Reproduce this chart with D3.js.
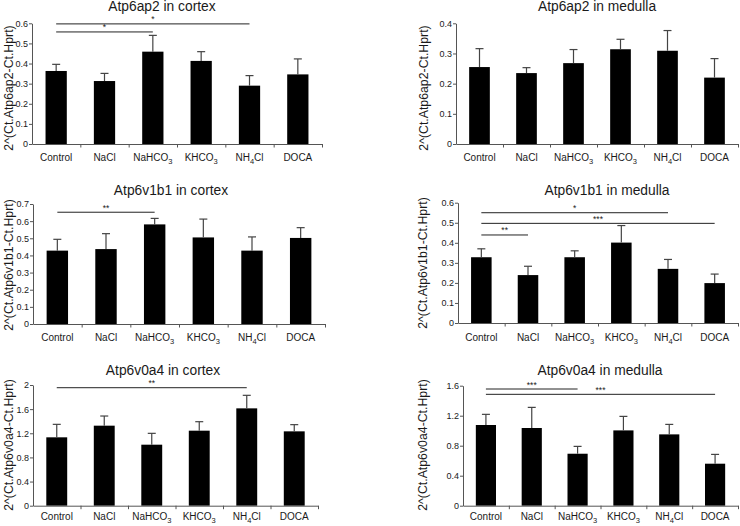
<!DOCTYPE html>
<html>
<head>
<meta charset="utf-8">
<script src="https://cdn.jsdelivr.net/npm/d3@7"></script>
<style>
  html, body { margin: 0; padding: 0; background: #fff; }
  svg { display: block; }
  text { font-family: "Liberation Sans", Arial, sans-serif; fill: #1a1a1a; }
</style>
</head>
<body>
<svg id="chart" width="740" height="526"></svg>
<script>
// ---------------- data ----------------
const categories = ["Control", "NaCl", "NaHCO3", "KHCO3", "NH4Cl", "DOCA"];

const atp6ap2CortexMean  = [0.363, 0.313, 0.459, 0.413, 0.290, 0.346];
const atp6ap2CortexErr   = [0.033, 0.038, 0.081, 0.046, 0.050, 0.077];
const atp6ap2MedullaMean = [0.255, 0.235, 0.268, 0.314, 0.309, 0.220];
const atp6ap2MedullaErr  = [0.061, 0.018, 0.045, 0.033, 0.067, 0.063];
const atp6v1b1CortexMean  = [0.428, 0.437, 0.581, 0.505, 0.428, 0.502];
const atp6v1b1CortexErr   = [0.066, 0.090, 0.035, 0.107, 0.080, 0.060];
const atp6v1b1MedullaMean = [0.328, 0.239, 0.328, 0.401, 0.270, 0.199];
const atp6v1b1MedullaErr  = [0.042, 0.044, 0.032, 0.085, 0.047, 0.045];
const atp6v0a4CortexMean  = [1.133, 1.326, 1.011, 1.243, 1.613, 1.232];
const atp6v0a4CortexErr   = [0.215, 0.160, 0.188, 0.149, 0.216, 0.111];
const atp6v0a4MedullaMean = [1.076, 1.036, 0.693, 1.004, 0.951, 0.560];
const atp6v0a4MedullaErr  = [0.142, 0.275, 0.098, 0.187, 0.133, 0.124];

const titles = ["Atp6ap2 in cortex", "Atp6ap2 in medulla",
                "Atp6v1b1 in cortex", "Atp6v1b1 in medulla",
                "Atp6v0a4 in cortex", "Atp6v0a4 in medulla"];
const yLabels = ["2^(Ct.Atp6ap2-Ct.Hprt)", "2^(Ct.Atp6ap2-Ct.Hprt)",
                 "2^(Ct.Atp6v1b1-Ct.Hprt)", "2^(Ct.Atp6v1b1-Ct.Hprt)",
                 "2^(Ct.Atp6v0a4-Ct.Hprt)", "2^(Ct.Atp6v0a4-Ct.Hprt)"];

const ticks1 = [0, 0.1, 0.2, 0.3, 0.4, 0.5, 0.6];
const ticks2 = [0, 0.1, 0.2, 0.3, 0.4];
const ticks3 = [0, 0.1, 0.2, 0.3, 0.4, 0.5, 0.6, 0.7];
const ticks4 = [0, 0.1, 0.2, 0.3, 0.4, 0.5, 0.6];
const ticks5 = [0, 0.4, 0.8, 1.2, 1.6, 2];
const ticks6 = [0, 0.4, 0.8, 1.2, 1.6];

// significance brackets: [fromIndex, toIndex, yValue, label]
const sig1 = [[0, 4, 0.597, "*"], [0, 2, 0.557, "*"]];
const sig2 = [];
const sig3 = [[0, 2, 0.652, "**"]];
const sig4 = [[0, 4, 0.550, "*"], [0, 5, 0.497, "***"], [0, 1, 0.439, "**"]];
const sig5 = [[0, 4, 1.955, "**"]];
const sig6 = [[0, 2, 1.556, "***"], [0, 5, 1.485, "***"]];

// ---------------- layout (positions only) ----------------
const layout = [
  { x0: 32,  x1: 322, y0: 144,   yTop: 23.3,  titleX: 162, titleY: 11,  ylx: 9,   yly: 88,  labY: 161 },
  { x0: 456, x1: 738, y0: 144,   yTop: 23.3,  titleX: 597, titleY: 11,  ylx: 424, yly: 88,  labY: 161 },
  { x0: 33,  x1: 325, y0: 324,   yTop: 204,   titleX: 171, titleY: 195, ylx: 9,   yly: 265, labY: 341 },
  { x0: 458, x1: 738, y0: 323,   yTop: 202.7, titleX: 607, titleY: 195, ylx: 423, yly: 263, labY: 341 },
  { x0: 33,  x1: 318, y0: 505.7, yTop: 385,   titleX: 163, titleY: 375, ylx: 9,   yly: 445, labY: 520 },
  { x0: 463, x1: 738, y0: 505.7, yTop: 385.7, titleX: 600, titleY: 375, ylx: 423, yly: 445, labY: 520 }
];

const means = [atp6ap2CortexMean, atp6ap2MedullaMean, atp6v1b1CortexMean, atp6v1b1MedullaMean, atp6v0a4CortexMean, atp6v0a4MedullaMean];
const errs  = [atp6ap2CortexErr, atp6ap2MedullaErr, atp6v1b1CortexErr, atp6v1b1MedullaErr, atp6v0a4CortexErr, atp6v0a4MedullaErr];
const tickSets = [ticks1, ticks2, ticks3, ticks4, ticks5, ticks6];
const sigs = [sig1, sig2, sig3, sig4, sig5, sig6];

const svg = d3.select("#chart");
const axisColor = "#555";

function addLabel(sel, name) {
  // split digits into subscripts
  const parts = name.split(/(\d)/).filter(s => s.length);
  parts.forEach(p => {
    if (/^\d$/.test(p)) {
      sel.append("tspan").attr("font-size", "7.5px").attr("dy", 2.5).text(p);
    } else {
      const t = sel.append("tspan").text(p);
      if (sel.selectAll("tspan").size() > 1) t.attr("dy", -2.5);
    }
  });
}

layout.forEach((L, i) => {
  const g = svg.append("g");
  const domMax = tickSets[i][tickSets[i].length - 1];
  const y = d3.scaleLinear().domain([0, domMax]).range([L.y0, L.yTop]);
  const x = d3.scaleBand().domain(categories).range([L.x0, L.x1]).paddingInner(0.56).paddingOuter(0.28);
  const xb = d3.scaleLinear().domain([0, categories.length]).range([L.x0, L.x1]);

  // bars
  g.selectAll("rect.bar").data(categories).join("rect")
    .attr("class", "bar")
    .attr("x", d => x(d))
    .attr("width", x.bandwidth())
    .attr("y", (d, j) => y(means[i][j]))
    .attr("height", (d, j) => L.y0 - y(means[i][j]))
    .attr("fill", "#000");

  // error bars (upper only)
  const eb = g.selectAll("g.err").data(categories).join("g").attr("class", "err");
  eb.append("line")
    .attr("x1", d => x(d) + x.bandwidth() / 2)
    .attr("x2", d => x(d) + x.bandwidth() / 2)
    .attr("y1", (d, j) => y(means[i][j]))
    .attr("y2", (d, j) => y(means[i][j] + errs[i][j]))
    .attr("stroke", "#444").attr("stroke-width", 1.2);
  eb.append("line")
    .attr("x1", d => x(d) + x.bandwidth() / 2 - 4)
    .attr("x2", d => x(d) + x.bandwidth() / 2 + 4)
    .attr("y1", (d, j) => y(means[i][j] + errs[i][j]))
    .attr("y2", (d, j) => y(means[i][j] + errs[i][j]))
    .attr("stroke", "#444").attr("stroke-width", 1.2);

  // y axis
  const ya = g.append("g").attr("transform", `translate(${L.x0},0)`)
    .call(d3.axisLeft(y).tickValues(tickSets[i]).tickSize(3).tickSizeOuter(0)
      .tickFormat(d => String(+d.toFixed(2))));
  ya.select(".domain").attr("stroke", axisColor);
  ya.selectAll(".tick line").attr("stroke", axisColor);
  ya.selectAll(".tick text").attr("font-size", "9px").attr("fill", "#222")
    .attr("font-family", "Liberation Sans, Arial, sans-serif").attr("x", -4);

  // x axis
  const xa = g.append("g").attr("transform", `translate(0,${L.y0})`)
    .call(d3.axisBottom(xb).tickValues(d3.range(1, categories.length + 1)).tickSize(3.5).tickSizeOuter(0).tickFormat(""));
  xa.select(".domain").attr("stroke", axisColor);
  xa.selectAll(".tick line").attr("stroke", axisColor);

  // category labels
  g.selectAll("text.cat").data(categories).join("text")
    .attr("class", "cat")
    .attr("x", d => x(d) + x.bandwidth() / 2)
    .attr("y", L.labY)
    .attr("text-anchor", "middle")
    .attr("font-size", "10px")
    .each(function(d) { addLabel(d3.select(this), d); });

  // title
  g.append("text").attr("x", L.titleX).attr("y", L.titleY)
    .attr("text-anchor", "middle").attr("font-size", "13.8px").text(titles[i]);

  // y label
  g.append("text")
    .attr("transform", `translate(${L.ylx + 4},${L.yly}) rotate(-90)`)
    .attr("text-anchor", "middle").attr("font-size", "12.3px").text(yLabels[i]);

  // significance lines
  sigs[i].forEach(s => {
    const xa1 = x(categories[s[0]]) + x.bandwidth() / 2;
    const xa2 = x(categories[s[1]]) + x.bandwidth() / 2;
    g.append("line").attr("x1", xa1).attr("x2", xa2)
      .attr("y1", y(s[2])).attr("y2", y(s[2]))
      .attr("stroke", "#222").attr("stroke-width", 1);
    g.append("text").attr("x", (xa1 + xa2) / 2).attr("y", y(s[2]) - 1.5)
      .attr("text-anchor", "middle").attr("font-size", "8.5px").text(s[3]);
  });
});
</script>
</body>
</html>
